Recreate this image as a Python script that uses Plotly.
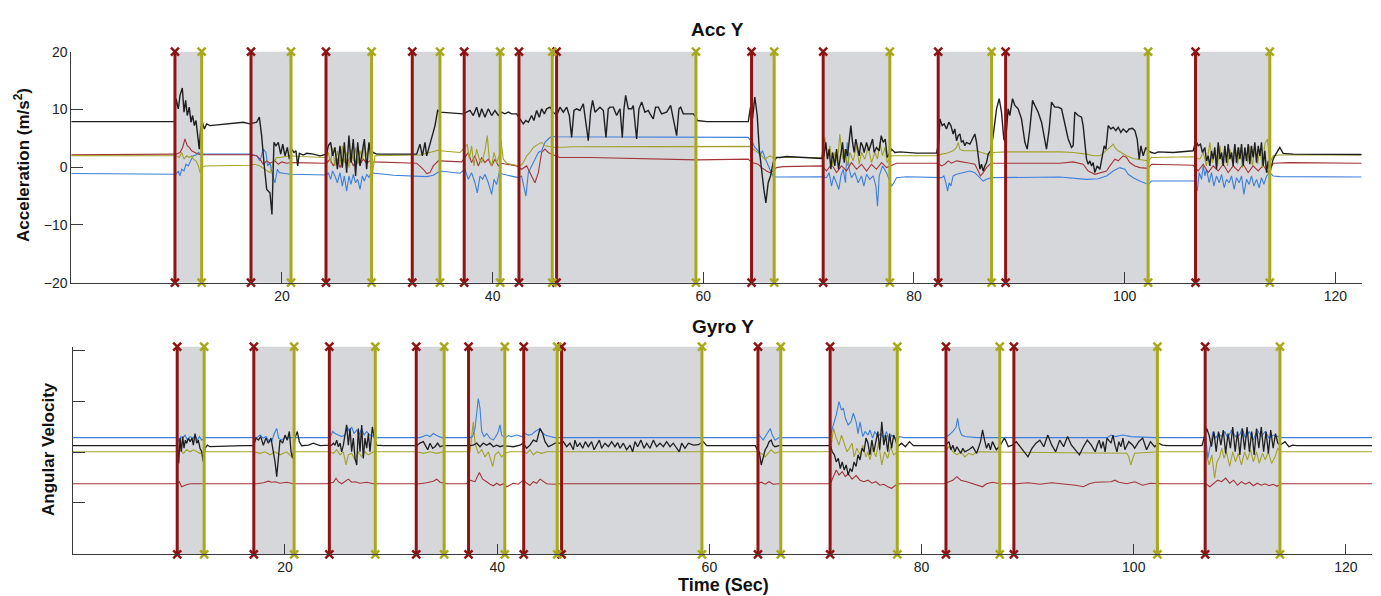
import plotly.graph_objects as go

# ---------------- data ----------------
event_start = [9.84, 17.06, 24.18, 32.37, 37.30, 42.50, 46.07, 64.58, 71.38, 82.30, 88.70, 106.73]
event_end = [12.38, 20.86, 28.51, 35.00, 40.72, 45.66, 59.30, 66.73, 77.71, 87.37, 102.23, 113.78]

x_ticks = [20, 40, 60, 80, 100, 120]
acc_ticks = [-20, -10, 0, 10, 20]
gyro_ticks = [-2, -1, 0, 1, 2]

acc_black = [
(0,7.9),(9.8,7.9),(9.94,11.86),(10.16,10.11),(10.32,12.44),(10.54,13.72),(10.7,9.53),(10.86,11.57),(11.01,8.95),(11.2,10.4),(11.36,7.79),(11.52,8.95),(11.68,7.2),(11.84,8.08),(12.0,5.46),(12.15,3.13),(12.28,6.62),(12.44,7.79),(12.63,6.62),(12.85,7.5),(13.17,7.2),(14.75,7.5),(16.33,7.79),(16.96,7.5),(17.6,7.79),(17.85,8.66),(18.07,5.46),(18.29,0.8),(18.55,-3.85),(18.86,-4.43),(19.05,-8.2),(19.24,4.3),(19.43,3.71),(19.65,4.3),(19.88,2.26),(20.07,4.0),(20.29,1.97),(20.51,3.42),(20.7,1.39),(20.92,3.13),(21.14,2.55),(21.33,2.84),(21.49,0.22),(21.65,2.4),(22.03,2.1),(22.34,2.4),(22.98,2.26),(23.61,1.97),(24.24,2.26),
(24.4,3.71),(24.62,4.3),(24.81,1.97),(25.03,3.42),(25.26,-0.36),(25.51,3.71),(25.73,-0.07),(25.92,4.3),(26.14,-0.94),(26.36,5.46),(26.55,0.8),(26.77,4.88),(26.99,-1.52),(27.19,4.3),(27.41,0.22),(27.63,2.55),(27.82,4.88),(28.04,-0.36),(28.26,4.3),(28.45,1.97),(28.67,2.55),(28.99,2.26),(30.57,2.26),(32.79,2.26),(33.1,4.0),(33.33,1.97),(33.58,4.3),(33.74,1.97),(34.05,4.0),(34.31,5.75),(34.53,7.2),(34.78,9.82),(35.0,9.53),(37.22,9.24),(37.53,9.53),(37.85,9.82),(38.16,8.95),(38.48,10.4),(38.73,8.66),(38.96,10.11),(39.27,8.66),(39.59,10.11),(39.91,8.95),(40.22,9.82),(40.54,8.95),(40.85,9.53),(41.17,9.24),(41.49,9.53),(41.8,9.24),(42.28,9.24),(42.59,8.37),(42.91,7.5),(43.16,8.08),(43.39,7.79),(43.7,8.95),(43.92,8.08),(44.18,9.82),(44.43,8.66),(44.65,10.11),(44.91,9.24),(45.13,10.11),(45.44,10.4),(45.76,9.53),(46.08,8.95),(46.39,10.4),(46.71,9.53),(47.03,10.4),(47.28,8.95),(47.5,5.17),(47.72,9.82),(47.97,10.11),(48.29,9.82),(48.61,10.98),(48.83,8.37),(49.08,4.59),(49.3,9.53),(49.49,11.57),(49.72,9.53),(50.19,10.4),(50.51,9.82),(50.76,5.17),(50.98,10.11),(51.14,10.4),(51.46,10.4),(51.77,8.95),(52.09,10.11),(52.31,5.17),(52.47,10.11),(52.63,12.44),(52.88,10.11),(53.2,10.11),(53.35,10.69),(53.67,4.88),(53.89,10.11),(54.15,11.28),(54.46,9.53),(54.78,9.82),(54.94,9.24),(55.25,8.37),(55.47,10.4),(55.73,10.4),(56.04,9.24),(56.52,9.53),(56.9,10.69),(57.15,8.37),(57.47,5.46),(57.69,10.11),(57.85,10.4),(58.1,9.24),(58.58,9.24),(59.05,9.24),(59.3,8.66),(59.43,8.08),(60.32,7.9),(64.27,7.9),
(64.48,10.4),(64.67,8.37),(64.89,12.15),(65.12,8.95),(65.31,3.13),(65.53,-0.94),(65.75,-3.85),(65.94,-6.18),(66.16,-2.69),(66.38,-1.52),(66.63,0.8),(66.95,1.68),(67.27,1.68),(67.9,1.85),(69.17,1.68),(71.22,1.5),
(71.45,1.97),(71.63,4.3),(71.79,1.39),(71.95,3.13),(72.11,-0.36),(72.27,2.55),(72.49,0.22),(72.65,3.13),(72.84,-0.36),(73.03,1.97),(73.22,4.3),(73.38,0.8),(73.53,3.13),(73.69,1.97),(73.85,4.88),(74.01,7.2),(74.17,4.3),(74.32,2.55),(74.48,4.88),(74.64,3.42),(74.8,1.97),(74.96,4.3),(75.12,3.71),(75.27,2.55),(75.5,4.3),(75.72,2.84),(75.91,4.0),(76.07,4.88),(76.22,2.55),(76.44,3.42),(76.7,2.84),(76.89,5.46),(77.08,4.3),(77.27,4.88),(77.46,1.68),(77.65,2.26),(77.87,3.13),(78.19,2.55),(78.66,2.66),(80.24,2.43),(82.14,2.43),(82.36,4.3),
(82.46,8.37),(82.68,7.2),(82.87,7.5),(83.09,6.62),(83.31,7.79),(83.5,7.2),(83.72,5.75),(83.88,6.62),(84.04,4.59),(84.2,5.46),(84.36,5.75),(84.51,4.3),(84.67,4.59),(84.83,3.71),(84.99,4.3),(85.31,4.0),(85.62,5.17),(85.78,5.75),(85.94,4.3),(86.1,1.39),(86.26,-0.36),(86.41,0.51),(86.57,-0.65),(86.73,0.22),(86.89,0.8),(87.05,2.26),(87.27,2.84),(87.52,5.46),(87.84,10.11),(88.09,11.86),(88.31,9.53),(88.53,4.88),(88.69,4.3),(88.94,10.11),(89.1,8.95),(89.36,11.86),(89.58,10.69),(89.89,10.11),(90.21,8.37),(90.53,4.3),(90.75,3.13),(91.0,6.62),(91.26,11.57),(91.48,10.69),(91.79,9.53),(92.11,7.79),(92.43,4.3),(92.58,3.13),(92.84,6.62),(93.06,11.28),(93.37,10.4),(93.69,10.4),(94.01,10.11),(94.32,7.79),(94.64,4.88),(94.96,3.42),(95.11,3.71),(95.27,9.53),(95.59,8.95),(95.91,8.66),(96.06,7.2),(96.22,4.3),(96.38,1.39),(96.54,0.51),(96.7,1.1),(96.86,0.22),(97.01,0.8),(97.17,-0.94),(97.39,0.22),(97.65,-0.36),(97.9,2.55),(98.06,3.71),(98.22,3.13),(98.44,7.2),(98.69,6.62),(98.91,6.91),(99.17,6.33),(99.39,6.91),(99.64,6.04),(99.86,6.62),(100.18,6.04),(100.43,6.62),(100.75,6.74),(100.97,6.33),(101.19,4.88),(101.38,1.39),(101.54,3.71),(101.76,1.97),(102.01,3.42),(102.23,2.84),(102.55,2.55),(102.87,2.4),(103.18,2.66),(104.61,2.55),(106.51,2.84),
(106.76,4.59),(106.98,3.71),(107.2,4.0),(107.39,2.55),(107.61,3.42),(107.77,1.1),(107.93,1.97),(108.09,0.22),(108.25,2.84),(108.41,1.39),(108.56,3.42),(108.72,-0.36),(108.88,4.3),(109.04,1.39),(109.2,2.55),(109.36,0.22),(109.51,3.71),(109.67,0.8),(109.83,4.0),(109.99,1.39),(110.15,2.55),(110.3,0.22),(110.46,4.0),(110.62,0.8),(110.78,3.42),(110.94,1.39),(111.1,4.0),(111.25,0.22),(111.41,3.42),(111.57,1.1),(111.73,4.0),(111.89,0.51),(112.04,3.71),(112.2,1.68),(112.36,4.3),(112.52,0.8),(112.68,3.71),(112.84,1.97),(112.99,4.3),(113.15,0.22),(113.31,2.84),(113.47,-0.94),(113.63,1.1),(113.79,-0.94),(113.94,0.22),(114.1,1.39),(114.26,1.97),(114.48,2.55),(114.73,3.42),(115.05,2.4),(116.0,2.26),(122.5,2.2)
]

acc_red = [
(0,2.15),(9.8,2.15),(9.94,2.26),(10.32,2.55),(10.57,3.42),(10.79,4.88),(11.01,3.71),(11.2,3.42),(11.43,2.84),(11.74,2.55),(12.06,2.26),(12.38,2.15),(16.96,2.15),(17.6,1.97),(17.91,1.39),(18.23,0.51),(18.55,1.1),(18.86,0.69),(19.34,1.1),(19.65,0.51),(19.97,0.92),(20.45,0.69),(20.92,0.8),(24.24,0.69),
(24.56,1.39),(24.88,0.22),(25.19,1.68),(25.51,-0.07),(25.83,1.39),(26.14,0.51),(26.46,1.68),(26.77,0.22),(27.09,1.39),(27.41,0.51),(27.72,1.39),(28.04,0.69),(28.36,1.1),(28.67,0.92),(32.47,0.8),(32.79,0.69),(33.42,-0.36),(33.74,-1.1),(34.05,-0.94),(34.37,0.22),(34.84,1.1),(35.0,1.1),(37.06,0.92),(37.37,1.68),(37.69,2.55),(38.0,0.8),(38.32,1.97),(38.64,0.22),(38.96,1.68),(39.27,0.8),(39.59,1.39),(39.91,0.22),(40.22,1.39),(40.54,0.22),(40.85,0.69),(41.33,0.51),(42.28,0.22),(42.75,-0.36),(43.23,0.22),(43.7,-1.52),(44.02,-2.69),(44.34,-0.94),(44.65,2.55),(44.97,3.13),(45.28,2.55),(45.6,2.26),(45.92,1.97),(46.39,1.68),(49.24,1.68),(52.72,1.5),(57.15,1.39),(59.37,1.27),(64.27,1.39),(64.59,0.8),(65.21,0.51),(65.53,-0.07),(66.0,-0.65),(66.32,-0.94),(66.63,-0.65),(66.95,-0.07),(67.58,0.1),(71.22,0.22),
(71.7,-0.65),(72.17,0.51),(72.65,-0.94),(73.12,0.22),(73.6,-0.65),(74.07,0.8),(74.55,-0.36),(75.02,0.51),(75.5,-0.65),(75.97,0.51),(76.44,-0.36),(76.92,0.8),(77.39,-0.07),(77.87,0.33),(78.34,0.69),(82.3,0.69),(82.62,0.22),(82.93,0.51),(83.25,1.1),(83.56,0.69),(84.04,1.1),(85.31,0.69),(85.78,0.51),(86.1,-0.65),(86.32,-1.52),(86.57,-0.94),(86.89,-0.07),(87.2,0.51),(87.52,0.69),(93.85,0.69),(95.11,0.92),(96.06,0.51),(96.54,-0.65),(97.17,-1.23),(97.8,-0.94),(98.28,-0.65),(98.6,0.22),(99.07,1.39),(99.39,1.1),(99.86,1.97),(100.18,1.68),(100.49,0.8),(100.97,0.22),(101.44,-0.07),(102.23,-0.2),(102.55,0.51),(106.51,0.33),
(106.98,-0.65),(107.46,0.51),(107.93,-0.94),(108.41,0.22),(108.88,-0.65),(109.36,0.51),(109.83,-0.94),(110.3,0.22),(110.78,-0.65),(111.25,0.51),(111.73,-0.94),(112.2,0.22),(112.68,-0.65),(113.15,0.33),(113.63,-0.94),(114.1,0.69),(115.68,0.8),(122.5,0.69)
]

acc_olive = [
(0,2.0),(9.8,2.0),(9.94,1.97),(10.26,1.68),(10.48,2.55),(10.7,1.39),(10.95,1.97),(11.2,1.68),(11.43,1.97),(11.58,1.39),(11.84,1.1),(12.06,0.22),(12.22,-0.94),(12.38,-0.07),(12.69,0.22),(16.96,0.33),(17.44,0.51),(17.91,0.22),(18.39,-0.36),(18.86,-0.94),(19.18,0.8),(19.5,1.68),(19.81,1.68),(20.76,1.97),(21.71,1.85),(24.24,1.68),
(24.4,2.55),(24.62,0.8),(24.81,3.42),(25.03,0.22),(25.26,2.84),(25.51,0.51),(25.73,3.71),(25.92,0.8),(26.14,2.55),(26.36,-0.07),(26.55,3.13),(26.77,1.1),(26.99,3.42),(27.19,0.51),(27.41,2.84),(27.63,1.39),(27.82,4.0),(28.04,1.97),(28.26,3.71),(28.45,0.22),(28.55,-1.52),(28.83,1.97),(32.47,1.97),(33.1,2.1),(33.74,2.43),(34.37,2.66),(34.94,3.0),(35.0,2.84),(36.9,2.55),(37.37,3.42),(37.59,4.0),(37.78,1.39),(38.0,3.71),(38.23,0.22),(38.48,3.13),(38.73,1.39),(38.96,0.8),(39.27,2.84),(39.49,5.46),(39.68,1.39),(39.91,0.22),(40.13,2.55),(40.38,0.8),(40.63,1.97),(40.79,4.59),(41.01,1.39),(41.33,0.69),(41.8,0.51),(42.28,0.33),(42.59,0.22),(42.91,0.8),(43.23,1.97),(43.54,2.55),(43.86,3.42),(44.34,4.0),(44.65,4.3),(44.97,3.71),(45.44,3.6),(45.92,3.42),(47.66,3.54),(64.43,3.6),(64.75,3.13),(65.38,2.26),(65.84,1.39),(66.32,1.97),(66.63,1.68),(71.22,1.68),
(71.54,5.17),(71.76,1.39),(72.01,3.71),(72.27,0.22),(72.49,2.55),(72.74,0.8),(72.96,5.75),(73.22,1.39),(73.44,3.13),(73.69,0.22),(73.91,2.55),(74.23,1.1),(74.55,3.71),(74.8,0.51),(75.02,2.55),(75.34,1.39),(75.65,3.42),(75.97,0.8),(76.29,2.55),(76.54,1.39),(76.76,4.3),(77.01,1.97),(77.24,3.42),(77.46,0.8),(77.87,1.97),(82.3,1.97),(82.62,2.26),(83.09,2.43),(83.72,2.84),(84.04,3.42),(84.2,4.3),(84.36,3.13),(84.67,2.84),(85.94,2.84),(86.41,2.55),(86.89,2.26),(87.2,2.1),(87.52,2.55),(88.79,2.66),(93.85,2.66),(95.11,2.55),(96.38,2.26),(97.01,1.97),(97.65,1.97),(98.28,2.84),(98.6,3.42),(98.91,4.0),(99.07,3.42),(99.39,2.84),(99.86,2.26),(100.18,1.97),(100.81,1.5),(101.44,1.27),(102.23,1.1),(102.55,1.68),(106.51,1.8),
(107.14,1.39),(107.46,2.55),(107.77,0.22),(108.09,4.3),(108.34,0.8),(108.56,2.84),(108.82,0.22),(109.04,3.71),(109.29,0.22),(109.51,3.42),(109.77,0.22),(109.99,3.13),(110.24,0.8),(110.46,4.0),(110.72,0.51),(110.94,3.42),(111.19,-0.07),(111.41,3.13),(111.67,0.8),(111.89,3.71),(112.14,0.22),(112.36,3.42),(112.62,0.51),(112.84,3.13),(113.09,-0.07),(113.31,4.0),(113.56,4.88),(113.79,0.8),(114.1,1.97),(114.73,2.1),(122.5,2.1)
]

acc_blue = [
(0,-1.1),(9.8,-1.1),(9.94,-1.23),(10.16,-0.65),(10.32,-1.52),(10.48,-0.36),(10.7,-0.65),(10.89,0.51),(11.11,0.22),(11.33,1.1),(11.58,1.97),(11.84,2.1),(12.06,2.55),(12.38,2.26),(16.96,2.26),(17.6,1.97),(17.91,1.1),(18.23,3.13),(18.48,2.55),(18.64,0.22),(18.86,0.8),(19.12,-1.52),(19.34,-2.69),(19.56,-0.36),(19.75,-0.94),(20.13,-1.05),(20.76,-1.23),(24.24,-1.35),
(24.4,-0.94),(24.62,-2.1),(24.81,-0.65),(25.03,-1.52),(25.26,-2.69),(25.51,-0.94),(25.73,-3.27),(25.92,-1.52),(26.14,-4.14),(26.36,-1.52),(26.55,-2.98),(26.77,-1.23),(26.99,-2.69),(27.19,-2.1),(27.41,-3.85),(27.63,-1.52),(27.82,-2.4),(28.04,-1.23),(28.26,-1.81),(28.45,-0.94),(28.83,-1.05),(30.57,-1.4),(32.47,-1.52),(33.74,-1.63),(34.37,-1.4),(34.84,-0.94),(35.0,-0.65),(36.9,-1.05),(37.37,-0.36),(37.69,-2.1),(38.0,-0.94),(38.32,-2.69),(38.54,-4.43),(38.8,-1.52),(39.05,-2.1),(39.27,-1.23),(39.59,-2.69),(39.91,-4.72),(40.13,-2.1),(40.38,-2.98),(40.63,-0.94),(41.01,-1.23),(41.49,-1.4),(41.96,-1.52),(42.44,-1.81),(42.75,-1.52),(42.97,-3.27),(43.16,-5.01),(43.39,-0.94),(43.7,0.22),(44.02,1.39),(44.34,2.55),(44.65,2.84),(44.97,4.3),(45.28,4.88),(45.6,5.34),(46.08,5.28),(64.27,5.17),(64.59,4.3),(64.67,4.3),(64.89,3.42),(65.21,2.84),(65.37,1.97),(65.62,2.84),(65.84,1.68),(66.16,0.22),(66.38,-0.65),(66.63,-1.52),(66.95,-1.7),(71.22,-1.65),
(71.7,-1.81),(71.95,-0.94),(72.17,-3.27),(72.39,-1.52),(72.65,-2.69),(72.87,-3.85),(73.06,-1.52),(73.28,-0.36),(73.5,-2.69),(73.66,4.3),(73.85,-0.36),(74.07,-1.81),(74.39,-0.94),(74.7,-2.69),(75.02,-1.52),(75.24,-3.27),(75.5,-1.23),(75.81,-2.1),(76.13,-1.52),(76.38,-3.27),(76.54,-6.76),(76.7,-1.52),(77.01,0.22),(77.39,-0.94),(77.71,-2.4),(77.87,-3.27),(78.09,-2.69),(78.34,-1.81),(79.29,-1.65),(82.3,-1.7),(82.62,-1.81),(82.84,-1.52),(83.03,-2.69),(83.19,-4.14),(83.34,-2.69),(83.5,-3.27),(83.72,-1.52),(84.04,-1.23),(84.67,-0.94),(85.31,-0.65),(85.78,-0.94),(86.1,-1.52),(86.32,-2.1),(86.57,-2.4),(86.89,-2.1),(87.36,-1.81),(93.85,-1.7),(94.48,-1.81),(96.38,-2.1),(97.49,-2.0),(98.28,-1.52),(98.91,-0.65),(99.54,-0.07),(100.02,-0.36),(100.34,-1.23),(100.81,-1.81),(101.44,-2.4),(102.23,-2.98),(102.55,-2.4),(106.67,-2.4),
(106.89,-4.14),(107.08,-0.94),(107.3,-2.1),(107.46,0.22),(107.62,-1.52),(107.77,-0.36),(108.03,-2.69),(108.25,-0.94),(108.47,-3.27),(108.72,-1.52),(108.98,-2.69),(109.2,-1.23),(109.45,-3.56),(109.67,-2.1),(109.92,-2.69),(110.15,-1.52),(110.4,-3.85),(110.62,-1.81),(110.87,-2.69),(111.1,-1.52),(111.32,-4.72),(111.57,-2.1),(111.82,-2.98),(112.04,-1.52),(112.27,-3.27),(112.52,-2.1),(112.77,-3.56),(112.99,-1.81),(113.22,-2.98),(113.47,-1.52),(113.79,-0.94),(114.1,-1.52),(114.73,-1.63),(122.5,-1.7)
]

gyro_black = [
(0,0.13),(9.85,0.13),(9.98,-0.22),(10.11,0.28),(10.23,0.01),(10.36,0.31),(10.48,0.08),(10.61,0.24),(10.73,0.18),(10.89,0.28),(11.05,0.21),(11.24,0.28),(11.36,0.14),(11.52,0.37),(11.68,0.18),(11.83,0.24),(11.99,0.08),(12.15,0.01),(12.3,-0.19),(12.46,0.08),(12.68,0.14),(12.93,0.11),(16.07,0.13),(17.02,0.13),(17.27,0.28),(17.49,0.24),(17.71,0.31),(17.96,0.14),(18.21,0.28),(18.43,0.18),(18.68,0.28),(18.9,0.01),(19.06,-0.19),(19.22,-0.48),(19.37,-0.05),(19.53,0.24),(19.78,0.18),(20.0,0.34),(20.22,0.24),(20.41,0.41),(20.57,0.01),(20.72,-0.12),(20.94,0.28),(21.16,0.41),(21.35,0.21),(21.57,0.13),(22.2,0.14),(22.67,0.18),(23.3,0.13),(24.24,0.13),(24.4,0.14),(24.56,0.18),(24.71,0.14),(24.87,0.24),(25.03,0.11),(25.19,0.18),(25.34,0.01),(25.5,0.14),(25.66,0.34),(25.81,0.54),(25.97,0.14),(26.13,0.47),(26.28,0.01),(26.44,0.28),(26.6,-0.12),(26.76,-0.25),(26.91,0.47),(27.07,0.01),(27.23,0.54),(27.38,-0.12),(27.54,0.28),(27.7,0.08),(27.86,0.37),(28.01,0.01),(28.23,0.5),(28.42,0.28),(28.64,0.14),(29.27,0.13),(32.41,0.13),(32.72,0.18),(33.04,0.21),(33.26,0.11),(33.45,0.05),(33.67,0.18),(33.92,0.08),(34.14,0.11),(34.39,0.18),(34.61,0.11),(34.93,0.13),(37.44,0.13),(37.75,0.14),(38.07,0.18),(38.38,0.11),(38.69,0.18),(39.01,0.14),(39.32,0.18),(39.64,0.11),(39.95,0.14),(40.27,0.11),(40.58,0.13),(41.52,0.11),(42.15,0.14),(42.46,0.18),(42.78,0.08),(43.09,0.14),(43.41,0.24),(43.72,0.21),(44.04,0.47),(44.29,0.37),(44.51,0.21),(44.82,0.11),(45.13,0.14),(45.45,0.18),
(45.92,0.18),(46.23,0.21),(46.55,0.11),(46.86,0.18),(47.18,0.05),(47.33,0.24),(47.55,0.11),(47.8,0.18),(48.06,0.08),(48.31,0.21),(48.59,0.11),(48.9,0.21),(49.13,0.05),(49.38,0.14),(49.63,0.24),(49.85,0.08),(50.16,0.18),(50.48,0.11),(50.79,0.21),(51.1,0.11),(51.36,0.19),(51.58,0.08),(51.89,0.18),(52.2,0.05),(52.52,0.14),(52.77,0.01),(52.99,0.21),(53.24,0.11),(53.55,0.24),(53.84,0.08),(54.09,0.18),(54.4,0.08),(54.72,0.24),(55.03,0.11),(55.35,0.18),(55.66,0.11),(55.97,0.21),(56.29,0.11),(56.6,0.18),(56.92,0.08),(57.17,0.01),(57.39,0.18),(57.7,0.08),(58.02,0.18),(58.49,0.14),(58.96,0.15),(59.43,0.21),(59.74,0.13),(64.33,0.13),
(64.51,0.05),(64.7,0.01),(64.89,-0.25),(65.07,-0.09),(65.26,0.05),(65.44,0.11),(65.63,0.21),(65.82,0.24),(66.0,0.14),(66.19,0.11),(66.56,0.13),(71.4,0.13),(71.59,0.01),(71.78,-0.05),(71.96,-0.19),(72.15,-0.12),(72.34,-0.32),(72.52,-0.19),(72.71,-0.35),(72.9,-0.25),(73.08,-0.45),(73.27,-0.32),(73.45,-0.38),(73.64,-0.19),(73.83,-0.28),(74.01,-0.05),(74.2,-0.15),(74.39,0.08),(74.57,0.01),(74.76,0.28),(74.95,0.18),(75.13,-0.05),(75.32,0.24),(75.5,0.01),(75.69,0.21),(75.88,0.41),(76.06,0.05),(76.25,0.6),(76.44,0.14),(76.62,0.34),(76.81,0.01),(76.99,0.37),(77.18,0.08),(77.37,0.34),(77.55,0.24),(77.74,0.11),(78.11,0.18),(78.48,0.11),(78.86,0.21),(79.23,0.13),(82.21,0.13),(82.58,0.21),(82.77,0.05),(82.95,0.14),(83.14,0.01),(83.33,0.11),(83.7,-0.02),(83.89,0.08),(84.07,0.01),(84.45,0.05),(84.82,0.11),(85.19,-0.02),(85.56,0.21),(85.75,0.44),(85.94,0.24),(86.12,0.08),(86.31,0.18),(86.49,0.05),(86.68,0.21),(86.87,0.14),(87.05,0.05),(87.43,0.14),(87.8,0.28),(87.98,0.21),(88.17,0.11),(88.54,0.14),
(88.92,0.21),(89.29,0.11),(89.66,0.01),(90.03,-0.09),(90.41,0.08),(90.78,0.18),(91.15,0.24),(91.52,0.11),(91.9,0.34),(92.27,0.14),(92.64,0.01),(93.02,0.24),(93.39,0.11),(93.76,0.31),(94.13,0.14),(94.51,0.05),(94.88,-0.05),(95.25,0.11),(95.62,0.24),(96.0,0.14),(96.37,0.01),(96.55,0.14),(96.74,0.24),(96.93,0.08),(97.11,0.21),(97.3,0.01),(97.48,0.28),(97.86,0.18),(98.04,0.34),(98.23,0.14),(98.42,0.01),(98.6,0.21),(98.79,0.11),(98.98,0.28),(99.16,0.05),(99.53,0.21),(99.91,0.14),(100.09,0.08),(100.47,0.21),(100.84,0.28),(101.21,0.05),(101.58,0.21),(101.96,0.11),(102.33,0.18),(102.7,0.14),(103.08,0.13),(106.43,0.13),
(106.87,0.47),(107.1,0.34),(107.32,0.11),(107.55,0.41),(107.77,0.01),(107.99,0.41),(108.21,0.14),(108.44,0.44),(108.66,-0.02),(108.89,0.37),(109.11,0.08),(109.33,0.5),(109.56,0.01),(109.78,0.41),(110.0,-0.05),(110.23,0.47),(110.45,0.05),(110.68,0.5),(110.9,0.01),(111.12,0.41),(111.35,-0.05),(111.57,0.47),(111.79,0.08),(112.02,0.5),(112.24,0.01),(112.47,0.41),(112.69,-0.02),(112.91,0.44),(113.14,0.08),(113.36,0.37),(113.58,0.18),(113.8,0.14),(114.25,0.21),(114.62,0.11),(114.99,0.14),(115.37,0.13),(122.5,0.13)
]

gyro_blue = [
(0,0.29),(9.85,0.29),(10.04,0.21),(10.17,0.31),(10.36,0.28),(10.58,0.34),(10.8,0.24),(11.05,0.31),(11.36,0.28),(11.52,0.34),(11.74,0.24),(11.93,0.31),(12.15,0.24),(12.46,0.29),(17.33,0.29),(17.65,0.34),(17.96,0.28),(18.21,0.31),(18.43,0.24),(18.74,0.21),(18.99,0.37),(19.22,0.47),(19.4,0.28),(19.69,0.24),(20.0,0.29),(24.24,0.29),(24.49,0.41),(24.71,0.37),(25.03,0.34),(25.34,0.31),(25.66,0.34),(25.88,0.5),(26.06,0.41),(26.28,0.5),(26.5,0.37),(26.76,0.44),(26.98,0.34),(27.23,0.47),(27.45,0.34),(27.7,0.41),(28.01,0.34),(28.33,0.31),(28.64,0.29),(32.72,0.29),(33.04,0.31),(33.35,0.34),(33.67,0.31),(33.98,0.37),(34.3,0.33),(34.77,0.29),(37.44,0.29),(37.69,0.31),(37.91,0.47),(38.07,0.74),(38.22,1.06),(38.38,0.87),(38.54,0.41),(38.76,0.31),(39.01,0.37),(39.32,0.28),(39.64,0.24),(39.95,0.34),(40.11,0.41),(40.27,0.54),(40.42,0.34),(40.74,0.28),(41.05,0.33),(41.36,0.31),(41.84,0.34),(42.31,0.31),(42.62,0.37),(42.94,0.34),(43.25,0.35),(43.56,0.41),(43.88,0.44),(44.04,0.47),(44.19,0.41),(44.51,0.34),(44.98,0.31),(45.45,0.29),(64.51,0.29),
(64.7,0.34),(65.07,0.24),(65.44,0.37),(65.74,0.47),(65.93,0.34),(66.19,0.24),(66.56,0.29),(71.4,0.29),(71.59,0.47),(71.96,0.74),(72.22,1.0),(72.45,0.83),(72.63,0.87),(72.82,0.67),(73.08,0.54),(73.34,0.6),(73.57,0.77),(73.83,0.6),(74.01,0.37),(74.2,0.6),(74.46,0.31),(74.68,0.41),(74.95,0.34),(75.13,0.44),(75.39,0.28),(75.58,0.41),(75.88,0.31),(76.14,0.37),(76.44,0.28),(76.7,0.41),(76.92,0.21),(77.18,0.34),(77.55,0.28),(77.74,0.24),(77.93,0.31),(78.3,0.29),(82.21,0.29),(82.58,0.34),(82.95,0.41),(83.25,0.5),(83.4,0.67),(83.55,0.47),(83.77,0.34),(84.07,0.31),(85.19,0.29),(97.5,0.29),(97.86,0.34),(98.23,0.31),(98.98,0.34),(99.72,0.31),(101.96,0.29),(106.8,0.29),
(106.98,-0.12),(107.25,0.14),(107.47,0.41),(107.73,0.28),(107.99,0.37),(108.29,0.31),(108.59,0.41),(108.85,0.28),(109.22,0.44),(109.59,0.31),(109.97,0.34),(110.23,0.47),(110.52,0.28),(110.9,0.41),(111.27,0.24),(111.64,0.44),(112.02,0.31),(112.39,0.41),(112.76,0.28),(113.14,0.34),(113.51,0.31),(113.88,0.29),(122.5,0.29)
]

gyro_olive = [
(0,0.01),(9.85,0.01),(10.11,0.05),(10.42,-0.02),(10.73,0.05),(11.05,0.01),(11.36,0.05),(11.68,0.01),(11.99,-0.02),(12.46,0.01),(17.02,0.01),(17.65,-0.02),(18.12,0.01),(18.59,-0.05),(19.06,0.01),(19.53,-0.05),(20.16,0.01),(20.63,-0.09),(20.94,0.01),(24.24,0.01),(24.56,-0.02),(24.87,0.05),(25.19,-0.05),(25.5,0.01),(25.75,-0.25),(25.97,-0.05),(26.28,-0.02),(26.6,-0.15),(26.91,0.01),(27.23,-0.09),(27.54,0.01),(27.86,-0.05),(28.33,0.01),(32.41,0.01),(33.04,-0.02),(33.67,0.01),(34.3,-0.02),(34.93,0.01),(37.44,0.01),(37.75,0.6),(37.91,0.18),(38.22,-0.02),(38.54,0.05),(38.85,-0.09),(39.17,0.01),(39.39,-0.15),(39.58,-0.28),(39.8,-0.05),(40.11,0.01),(40.42,-0.09),(40.74,-0.02),(41.21,0.01),(42.46,0.01),(42.78,-0.02),(43.09,0.05),(43.41,-0.05),(43.72,0.01),(44.19,-0.02),(44.66,0.01),(64.51,0.01),
(64.89,-0.02),(65.26,-0.09),(65.52,-0.02),(65.82,0.05),(66.19,-0.02),(66.56,0.01),(71.4,0.01),(71.7,0.47),(71.96,0.28),(72.22,0.14),(72.45,0.34),(72.71,0.18),(72.97,0.01),(73.19,0.08),(73.45,0.18),(73.64,-0.09),(73.9,0.08),(74.2,-0.05),(74.46,0.14),(74.76,-0.09),(74.95,0.01),(75.13,-0.15),(75.39,0.08),(75.69,-0.09),(75.95,0.18),(76.25,-0.25),(76.51,0.01),(76.81,-0.12),(77.07,0.11),(77.37,-0.05),(77.74,0.01),(82.21,0.01),(82.58,0.11),(82.95,0.01),(83.33,-0.05),(83.7,0.01),(84.07,-0.09),(84.45,-0.02),(84.82,-0.05),(85.19,0.01),(99.35,-0.02),(99.53,-0.09),(99.72,-0.25),(99.91,-0.12),(100.09,-0.02),(102.33,0.01),(106.8,0.01),
(107.1,-0.25),(107.36,-0.05),(107.62,-0.51),(107.84,-0.19),(108.1,-0.09),(108.29,0.08),(108.51,-0.12),(108.74,0.01),(109.04,-0.28),(109.33,0.01),(109.59,-0.19),(109.85,-0.02),(110.15,-0.25),(110.45,0.01),(110.71,-0.15),(111.01,0.05),(111.27,-0.19),(111.57,0.01),(111.83,-0.22),(112.13,-0.02),(112.39,-0.15),(112.69,0.01),(112.99,-0.22),(113.32,-0.09),(113.58,0.08),(113.88,0.01),(122.5,0.01)
]

gyro_red = [
(0,-0.62),(9.85,-0.62),(10.04,-0.58),(10.26,-0.68),(10.58,-0.65),(11.05,-0.62),(17.33,-0.62),(17.96,-0.6),(18.43,-0.57),(18.74,-0.59),(19.06,-0.58),(19.53,-0.61),(20.16,-0.59),(20.79,-0.62),(23.93,-0.62),(24.56,-0.59),(24.81,-0.51),(25.03,-0.58),(25.34,-0.62),(25.66,-0.57),(25.97,-0.53),(26.28,-0.59),(26.6,-0.58),(27.07,-0.61),(27.7,-0.59),(28.33,-0.62),(32.72,-0.62),(33.35,-0.6),(33.98,-0.57),(34.3,-0.53),(34.61,-0.59),(35.24,-0.62),(37.12,-0.62),(37.44,-0.55),(37.91,-0.58),(38.32,-0.4),(38.63,-0.53),(39.01,-0.58),(39.32,-0.63),(39.64,-0.66),(39.95,-0.61),(40.27,-0.65),(40.58,-0.62),(40.9,-0.68),(41.21,-0.65),(41.52,-0.61),(41.99,-0.63),(42.46,-0.55),(42.78,-0.61),(43.09,-0.65),(43.41,-0.58),(43.72,-0.61),(44.04,-0.53),(44.35,-0.58),(44.66,-0.62),(45.29,-0.63),(45.92,-0.62),(64.51,-0.62),
(64.89,-0.59),(65.26,-0.63),(65.63,-0.58),(66.0,-0.63),(66.56,-0.62),(71.4,-0.62),(71.7,-0.48),(71.96,-0.35),(72.22,-0.45),(72.52,-0.38),(72.82,-0.48),(73.08,-0.42),(73.45,-0.53),(73.83,-0.46),(74.2,-0.55),(74.57,-0.58),(74.95,-0.55),(75.32,-0.61),(75.69,-0.58),(76.06,-0.65),(76.44,-0.63),(76.81,-0.68),(77.18,-0.71),(77.55,-0.65),(77.93,-0.62),(82.21,-0.62),(82.58,-0.58),(82.95,-0.55),(83.33,-0.48),(83.7,-0.55),(84.26,-0.58),(84.82,-0.62),(85.38,-0.65),(85.75,-0.68),(86.12,-0.62),(86.68,-0.59),(87.43,-0.62),(88.92,-0.62),(90.03,-0.6),(91.15,-0.63),(92.27,-0.6),(93.39,-0.62),(94.51,-0.65),(95.25,-0.68),(95.81,-0.62),(96.37,-0.59),(97.86,-0.58),(98.23,-0.55),(98.6,-0.59),(99.35,-0.62),(100.09,-0.58),(100.84,-0.65),(101.58,-0.61),(102.33,-0.62),(106.8,-0.62),
(107.17,-0.68),(107.55,-0.61),(107.92,-0.55),(108.29,-0.58),(108.66,-0.51),(109.04,-0.61),(109.41,-0.55),(109.78,-0.65),(110.15,-0.58),(110.52,-0.63),(110.9,-0.59),(111.27,-0.66),(111.64,-0.61),(112.02,-0.65),(112.39,-0.62),(112.76,-0.66),(113.14,-0.63),(113.51,-0.67),(113.88,-0.62),(122.5,-0.62)
]

# ---------------- style ----------------
C_BLACK = "#1f1f1f"
C_BLUE = "#3c7fdc"
C_RED = "#a3343a"
C_OLIVE = "#a2a22a"
C_START = "#8c1414"
C_END = "#a8a81c"
C_SHADE = "#d5d7db"
AXC = "#3a3a3a"
FONT = "Liberation Sans"

ACC_RANGE = [-20, 20]
GYRO_RANGE = [-2.012, 2.083]
X1_RANGE = [0, 122.5]
X2_RANGE = [0, 122.45]

# the page body keeps an 8 px margin, so the figure is 8 px smaller than the window
FIG_W, FIG_H = 1373, 588

fig = go.Figure()


def add_series(data, color, xa, ya, width=1.1):
    fig.add_trace(go.Scatter(
        x=[p[0] for p in data], y=[p[1] for p in data], mode="lines",
        line=dict(color=color, width=width), xaxis=xa, yaxis=ya,
        hoverinfo="skip", showlegend=False))


def add_events(times, color, xa, ya, yr):
    xs, ys = [], []
    for t in times:
        xs += [t, t, None]
        ys += [yr[0], yr[1], None]
    fig.add_trace(go.Scatter(
        x=xs, y=ys, mode="lines+markers",
        line=dict(color=color, width=3),
        marker=dict(symbol="x-thin", size=8, color=color,
                    line=dict(color=color, width=2.5)),
        xaxis=xa, yaxis=ya, cliponaxis=False,
        hoverinfo="skip", showlegend=False))


# top panel
add_series(acc_blue, C_BLUE, "x", "y")
add_series(acc_red, C_RED, "x", "y")
add_series(acc_olive, C_OLIVE, "x", "y")
add_series(acc_black, C_BLACK, "x", "y", 1.4)
add_events(event_start, C_START, "x", "y", ACC_RANGE)
add_events(event_end, C_END, "x", "y", ACC_RANGE)

# bottom panel
add_series(gyro_red, C_RED, "x2", "y2")
add_series(gyro_olive, C_OLIVE, "x2", "y2")
add_series(gyro_blue, C_BLUE, "x2", "y2")
add_series(gyro_black, C_BLACK, "x2", "y2", 1.3)
add_events(event_start, C_START, "x2", "y2", GYRO_RANGE)
add_events(event_end, C_END, "x2", "y2", GYRO_RANGE)

shapes = []
for s, e in zip(event_start, event_end):
    for xr, yr in (("x", "y domain"), ("x2", "y2 domain")):
        shapes.append(dict(type="rect", xref=xr, yref=yr, x0=s, x1=e, y0=0, y1=1,
                           fillcolor=C_SHADE, line=dict(width=0), layer="below"))

axis_common = dict(showgrid=False, zeroline=False, showline=True, linecolor=AXC,
                   linewidth=1, ticks="inside", tickcolor=AXC, tickwidth=1,
                   automargin=False,
                   tickfont=dict(family=FONT, size=14, color="#222"))


def ann(text, x, y, size, angle=0):
    return dict(text=text, x=x, y=y, xref="paper", yref="paper", showarrow=False,
                xanchor="center", yanchor="middle", textangle=angle,
                font=dict(family=FONT, size=size, color="#111"))


fig.update_layout(
    width=FIG_W, height=FIG_H,
    margin=dict(l=0, r=0, t=0, b=0, autoexpand=False),
    paper_bgcolor="white", plot_bgcolor="white",
    showlegend=False,
    shapes=shapes,
    xaxis=dict(domain=[0.0461, 0.9859], range=X1_RANGE, tickvals=x_ticks,
               ticklen=11, anchor="y", **axis_common),
    yaxis=dict(domain=[0.5328, 0.9257], range=ACC_RANGE, tickvals=acc_ticks,
               ticklen=12, anchor="x", **axis_common),
    xaxis2=dict(domain=[0.0472, 0.9934], range=X2_RANGE, tickvals=x_ticks,
                ticklen=10, anchor="y2", **axis_common),
    yaxis2=dict(domain=[0.0709, 0.4240], range=GYRO_RANGE, tickvals=gyro_ticks,
                showticklabels=False, ticklen=12, anchor="x2", **axis_common),
    annotations=[
        ann("<b>Acc Y</b>", 0.5171, 0.9626, 19),
        ann("<b>Gyro Y</b>", 0.5208, 0.4575, 19),
        ann("<b>Time (Sec)</b>", 0.5208, 0.0187, 18),
        ann("<b>Acceleration (m/s<sup>2</sup>)</b>", 0.0102, 0.733, 17, -90),
        ann("<b>Angular Velocity</b>", 0.0291, 0.25, 17, -90),
    ],
)

fig.write_html("out.html")
